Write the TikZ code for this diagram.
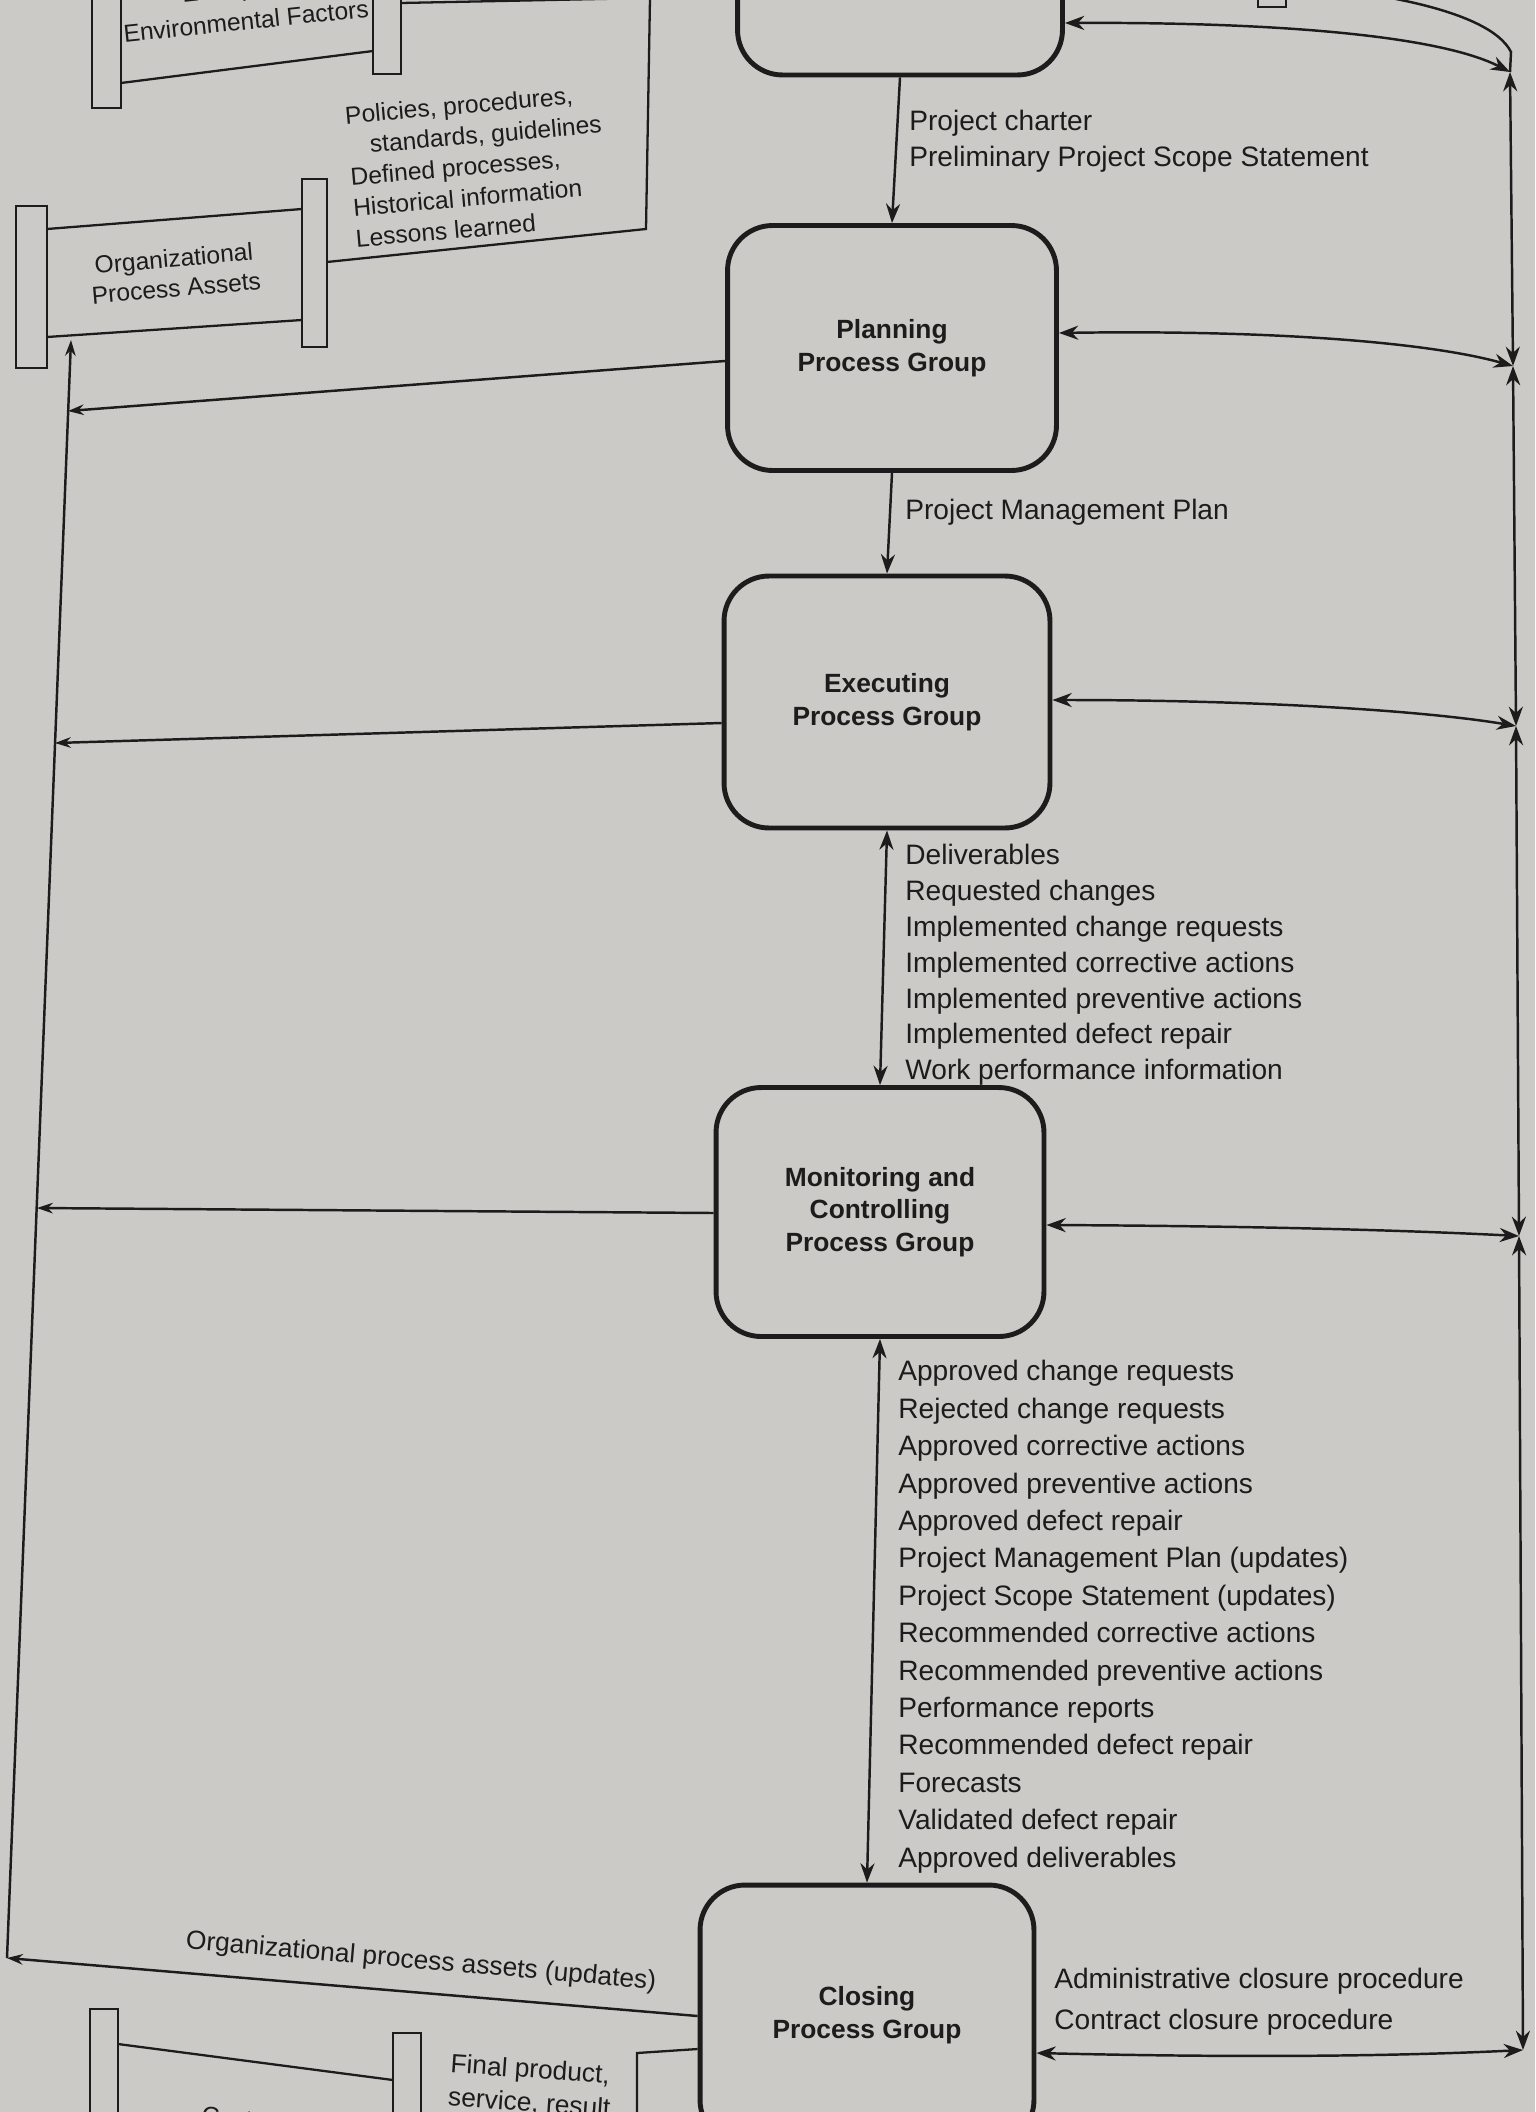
\documentclass[tikz,border=0pt]{standalone}
\usepackage{fontspec}
\setmainfont{Liberation Sans}
\usetikzlibrary{arrows.meta,calc}
\definecolor{paper}{RGB}{204,202,199}
\definecolor{ink}{RGB}{28,28,28}
\begin{document}
\begin{tikzpicture}[x=0.02cm,y=-0.02cm,
  pg/.style={draw=ink, line width=2.8pt, rounded corners=0.9cm, align=center,
    font=\fontsize{15}{18.5}\selectfont\bfseries, text=ink, inner sep=0pt},
  conn/.style={draw=ink, line width=1.4pt},
  doc/.style={draw=ink, line width=1.3pt},
  tipR/.style={-{Stealth[length=11pt,width=8pt]}},
  tipB/.style={{Stealth[length=11pt,width=8pt]}-{Stealth[length=11pt,width=8pt]}},
  tipL/.style={-{Stealth[length=9pt,width=6pt]}},
  lbl/.style={font=\fontsize{16}{20.4}\selectfont, text=ink, inner sep=0pt, align=left},
  lbltwo/.style={font=\fontsize{16}{21.3}\selectfont, text=ink, inner sep=0pt, align=left},
  small/.style={font=\fontsize{14}{17}\selectfont, text=ink, inner sep=0pt, align=center}
]
\useasboundingbox (0,0) rectangle (1535,2112);
\fill[paper] (0,0) rectangle (1535,2112);
\clip (0,0) rectangle (1535,2112);

% process group boxes
\node[pg, minimum width=6.5cm, minimum height=5cm] (init) at (900,-50) {};
\node[pg, minimum width=6.58cm, minimum height=4.9cm] (plan) at (892,348) {Planning\\Process Group};
\node[pg, minimum width=6.52cm, minimum height=5.04cm] (exec) at (887,702) {Executing\\Process Group};
\node[pg, minimum width=6.56cm, minimum height=4.98cm] (mon) at (880,1212) {Monitoring and\\Controlling\\Process Group};
\node[pg, minimum width=6.68cm, minimum height=5.2cm] (close) at (867,2015) {Closing\\Process Group};

% vertical flows
\draw[conn, tipR] (init.south) -- (plan.north);
\draw[conn, tipR] (plan.south) -- (exec.north);
\draw[conn, tipB] (exec.south) -- (mon.north);
\draw[conn, tipB] (mon.south) -- (close.north);

% labels of vertical flows
\node[lbl, anchor=north west] (lblpc) at (909,110) {Project charter\\Preliminary Project Scope Statement};
\node[lbl, anchor=base west] (lblpmp) at (905,519) {Project Management Plan};
\node[lbl, anchor=north west] (lblexec) at (905,844) {Deliverables\\Requested changes\\Implemented change requests\\Implemented corrective actions\\Implemented preventive actions\\Implemented defect repair\\Work performance information};
\node[lbltwo, anchor=north west] (lblmon) at (898,1360) {Approved change requests\\Rejected change requests\\Approved corrective actions\\Approved preventive actions\\Approved defect repair\\Project Management Plan (updates)\\Project Scope Statement (updates)\\Recommended corrective actions\\Recommended preventive actions\\Performance reports\\Recommended defect repair\\Forecasts\\Validated defect repair\\Approved deliverables};

% left return line
\coordinate (Ltop) at (71,340);
\coordinate (Lbot) at (7,1958);
\coordinate (Lp) at (68,411);
\coordinate (Le) at (55,743);
\coordinate (Lm) at (37,1208);
\draw[conn, tipL] (Lbot) -- (Ltop);
\draw[conn, tipL] ($(plan.west)+(0,13)$) -- (Lp);
\draw[conn, tipL] ($(exec.west)+(0,21)$) -- (Le);
\draw[conn, tipL] ($(mon.west)+(0,1)$) -- (Lm);
\draw[conn, tipL] ($(close.west)+(0,1)$) -- (Lbot);
\node[small, font=\fontsize{15}{18}\selectfont, rotate=-5] (lblopa) at (421,1962) {Organizational process assets (updates)};

% right side line with junctions
\coordinate (J0) at (1510,72);
\coordinate (J1) at (1513,366);
\coordinate (J2) at (1516,726);
\coordinate (J3) at (1519,1236);
\coordinate (J4) at (1523,2050);
\draw[conn, tipB] (J0) -- (J1);
\draw[conn, tipB] (J1) -- (J2);
\draw[conn, tipB] (J2) -- (J3);
\draw[conn, tipB] (J3) -- (J4);
\draw[conn] (J0) -- (1511,52) .. controls (1500,30) and (1460,10) .. (1380,-4);
\coordinate (iy) at (0,23);
\draw[conn, tipB] (init.east |- iy) .. controls (1280,22) and (1440,36) .. (J0);
\draw[conn, tipB] ($(plan.east)+(0,-15)$) .. controls (1250,330) and (1420,340) .. (J1);
\draw[conn, tipB] ($(exec.east)+(0,-2)$) .. controls (1250,700) and (1420,710) .. (J2);
\draw[conn, tipB] ($(mon.east)+(0,13)$) .. controls (1250,1226) and (1400,1230) .. (J3);
\draw[conn, tipB] ($(close.east)+(0,38)$) .. controls (1250,2058) and (1400,2056) .. (J4);
\node[lbl, font=\fontsize{16}{23}\selectfont, anchor=north west] (lblclose) at (1054,1968) {Administrative closure procedure\\Contract closure procedure};

% small box at top right
\draw[doc] (1258,-20) rectangle (1286,7);

% Enterprise Environmental Factors
\draw[doc] (92,-20) rectangle (121,108);
\draw[doc] (373,-20) rectangle (401,74);
\draw[doc] (121,83) -- (373,51);
\node[small, rotate=6] (eefa) at (238,-10) {Enterprise};
\node[small, rotate=6] (eefb) at (246,21) {Environmental Factors};
\draw[doc] (401,3) -- (650,-2) -- (646,229) -- (327,262);
\node[small, font=\fontsize{14}{17.6}\selectfont, rotate=5, anchor=north west, align=left] (pol) at (344,106) {Policies, procedures,\\\hspace*{0.9em}standards, guidelines\\Defined processes,\\Historical information\\Lessons learned};

% Organizational Process Assets
\draw[doc] (16,206) rectangle (47,368);
\draw[doc] (302,179) rectangle (327,347);
\draw[doc] (47,229) -- (302,209);
\draw[doc] (47,337) -- (302,320);
\node[small, rotate=5] (opa) at (175,273) {Organizational\\Process Assets};

% Customer
\draw[doc] (90,2009) rectangle (118,2140);
\draw[doc] (393,2033) rectangle (421,2140);
\draw[doc] (118,2044) -- (393,2080);
\node[small, rotate=-5] (cust) at (255,2120) {Customer};
\node[small, font=\fontsize{15}{19}\selectfont, rotate=-4, anchor=north west, align=left] (fp) at (451,2053) {Final product,\\service, result};
\draw[doc] ($(close.west)+(0,34)$) -- (637,2053) -- (637,2140);
\end{tikzpicture}
\end{document}
